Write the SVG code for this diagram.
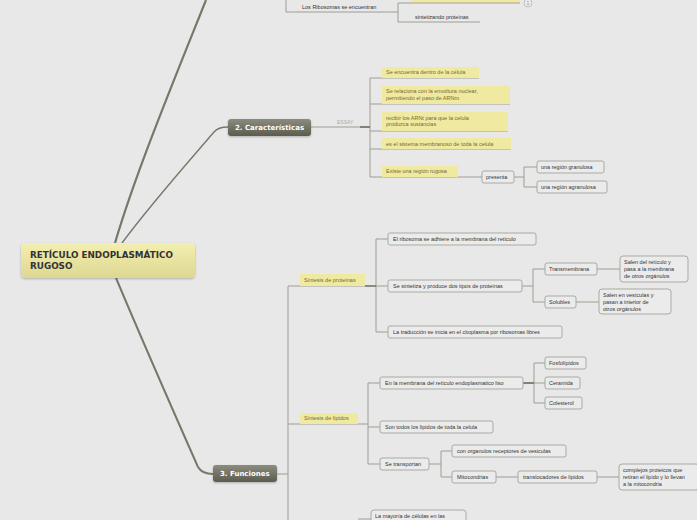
<svg xmlns="http://www.w3.org/2000/svg" width="697" height="520" viewBox="0 0 697 520">
<defs>
<style>
.bg{fill:#e8e8e8}
.box{fill:#ebebeb;stroke:#a9a9a1;stroke-width:1}
.ybox{fill:#efe9a2}
.t{font-family:"Liberation Sans",Arial,sans-serif;font-size:5.5px;fill:#333}
.yt{fill:#77692e}
.c{fill:none;stroke:#9e9e94;stroke-width:1}
.ct{fill:none;stroke:#78786a;stroke-width:2}
.ul{stroke:#a4a49a;stroke-width:1}
.main{font-family:"DejaVu Sans","Liberation Sans",sans-serif;font-weight:bold;fill:#fff;font-size:7px}
.ctext{font-family:"DejaVu Sans","Liberation Sans",sans-serif;font-weight:bold;font-size:8.8px;fill:#333}
</style>
<linearGradient id="gd" x1="0" y1="0" x2="0" y2="1"><stop offset="0" stop-color="#8c8c7e"/><stop offset="1" stop-color="#5c5c4e"/></linearGradient>
<linearGradient id="gy" x1="0" y1="0" x2="0" y2="1"><stop offset="0" stop-color="#f3efb0"/><stop offset="1" stop-color="#ddd792"/></linearGradient>
<filter id="sh" x="-10%" y="-20%" width="120%" height="150%"><feDropShadow dx="0" dy="1" stdDeviation="1" flood-color="#000" flood-opacity="0.25"/></filter>
</defs>
<rect class="bg" x="0" y="0" width="697" height="520"/>

<g id="connectors">
<path class="ct" d="M115,243 C135,175 170,90 206,0" style="stroke-width:2.2"/>
<path class="ct" d="M122,243 C150,205 190,160 214,132 Q218,127 228,127" style="stroke-width:1.4"/>
<path class="ct" d="M116,278 C140,335 175,415 198,467 Q202,474 213,474" style="stroke-width:2"/>
<!-- top -->
<path class="c" d="M286,0 V12 H398 M398,3 V22 M398,3 H411 M398,22 H480"/>
<!-- caracteristicas -->
<path class="c" d="M311,127 H370 M370,78 V177 M370,78 H479 M370,104 H510 M370,131 H508 M370,149 H511 M370,177 H482 M514,177 H524 M524,167 V187 M524,167 H537 M524,187 H537"/>
<path d="M360,127 H370" stroke="#6d6d60" stroke-width="1.5"/>
<!-- funciones -->
<path class="c" d="M277,474 H288 M288,286 V520 M288,286 H365 M288,424 H358 M376,239 V332 M376,239 H388 M376,286 H388 M376,332 H388 M522,286 H533 M533,269 V302 M533,269 H545 M533,302 H545 M597,269 H620 M576,302 H599"/>
<path d="M365,286 H376" stroke="#6d6d60" stroke-width="1.5"/>
<path class="c" d="M358,424 H368 M368,383 V464 M368,383 H380 M368,427 H380 M368,464 H380 M523,383 H534 M534,363 V403 M534,363 H545 M534,383 H545 M534,403 H545 M429,464 H441 M441,451 V477 M441,451 H452 M441,477 H452 M496,477 H518 M597,477 H619 M358,519 H371"/>
<path d="M523,383 H534" stroke="#6d6d60" stroke-width="1.5"/>
</g>

<g id="central">
<rect x="21" y="243" width="174" height="35" rx="4" fill="url(#gy)" filter="url(#sh)"/>
<text class="ctext" x="30" y="258">RETÍCULO ENDOPLASMÁTICO</text>
<text class="ctext" x="30" y="269">RUGOSO</text>
</g>

<g id="top-ribosomas">
<text class="t" x="302" y="9">Los Ribosomas se encuentran</text>
</g>
<g id="top-yellow">
<rect class="ybox" x="411" y="-6" width="109" height="9"/>
<line class="ul" x1="411" y1="3" x2="520" y2="3"/>
<circle cx="528" cy="3" r="4" fill="#ebebeb" stroke="#b8b8b0" stroke-width="0.8"/>
<text x="528" y="5" text-anchor="middle" style="font-family:'Liberation Sans',sans-serif;font-size:5px;fill:#999">1</text>
</g>
<g id="top-sintetizando">
<text class="t" x="415" y="19" fill="#555">sintetizando proteinas</text>
</g>

<g id="caracteristicas">
<rect x="228" y="119" width="83" height="17" rx="3" fill="url(#gd)" filter="url(#sh)"/>
<text class="main" x="235" y="130">2. Características</text>
<text x="337" y="124" style="font-family:'Liberation Sans',sans-serif;font-size:5px;fill:#aaa">ESSAY</text>
</g>
<g id="c1"><rect class="ybox" x="382" y="67" width="97" height="11"/><text class="t yt" x="386" y="74">Se encuentra dentro de la célula</text></g>
<g id="c2"><rect class="ybox" x="382" y="86" width="128" height="18"/><text class="t yt" x="386" y="93">Se relaciona con la envoltura nuclear,</text><text class="t yt" x="386" y="100">permitiendo el paso de ARNm</text></g>
<g id="c3"><rect class="ybox" x="382" y="112" width="126" height="19"/><text class="t yt" x="386" y="120">recibir los ARNt para que la celula</text><text class="t yt" x="386" y="126">produzca sustancias</text></g>
<g id="c4"><rect class="ybox" x="382" y="138" width="129" height="11"/><text class="t yt" x="386" y="146">es el sistema membranoso de toda la celula</text></g>
<g id="c5"><rect class="ybox" x="382" y="166" width="76" height="11"/><text class="t yt" x="386" y="173">Existe una región rugosa</text></g>
<g id="presenta"><rect class="box" x="482" y="171" width="32" height="12" rx="2"/><text class="t" x="486" y="179">presenta</text></g>
<g id="granulosa"><rect class="box" x="537" y="161" width="67" height="12" rx="2"/><text class="t" x="541" y="169">una región granulosa</text></g>
<g id="agranulosa"><rect class="box" x="537" y="181" width="70" height="12" rx="2"/><text class="t" x="541" y="189">una región agranulosa</text></g>

<g id="funciones">
<rect x="213" y="465" width="64" height="17" rx="3" fill="url(#gd)" filter="url(#sh)"/>
<text class="main" x="220" y="476">3. Funciones</text>
</g>
<g id="sint-prot"><rect class="ybox" x="300" y="274" width="65" height="12"/><text class="t yt" x="304" y="282">Síntesis de proteínas</text></g>
<g id="ribosoma"><rect class="box" x="388" y="233" width="148" height="12" rx="2"/><text class="t" x="393" y="241">El ribosoma se adhiere a la membrana del retículo</text></g>
<g id="sintetiza"><rect class="box" x="388" y="280" width="134" height="12" rx="2"/><text class="t" x="393" y="288">Se sintetiza y produce dos tipos de proteínas</text></g>
<g id="traduccion"><rect class="box" x="388" y="326" width="174" height="12" rx="2"/><text class="t" x="393" y="334">La traducción se inicia en el citoplasma por ribosomas libres</text></g>
<g id="transmembrana"><rect class="box" x="545" y="263" width="52" height="12" rx="2"/><text class="t" x="549" y="271">Transmembrana</text></g>
<g id="solubles"><rect class="box" x="545" y="296" width="31" height="12" rx="2"/><text class="t" x="549" y="304">Solubles</text></g>
<g id="salen1"><rect class="box" x="620" y="256" width="68" height="26" rx="3"/><text class="t" x="624" y="264">Salen del retículo y</text><text class="t" x="624" y="271">pasa a la membrana</text><text class="t" x="624" y="278">de otros orgánulos</text></g>
<g id="salen2"><rect class="box" x="599" y="289" width="72" height="25" rx="3"/><text class="t" x="603" y="297">Salen en vesículas y</text><text class="t" x="603" y="304">pasan a interior de</text><text class="t" x="603" y="311">otros orgánulos</text></g>

<g id="sint-lip"><rect class="ybox" x="300" y="413" width="58" height="11"/><text class="t yt" x="304" y="420">Síntesis de lípidos</text></g>
<g id="membrana"><rect class="box" x="380" y="377" width="143" height="12" rx="2"/><text class="t" x="385" y="385">En la membrana del retículo endoplasmatico liso</text></g>
<g id="todos"><rect class="box" x="380" y="421" width="113" height="12" rx="2"/><text class="t" x="385" y="429">Son todos los lipidos de toda la celula</text></g>
<g id="transportan"><rect class="box" x="380" y="458" width="49" height="12" rx="2"/><text class="t" x="385" y="466">Se transportan</text></g>
<g id="fosfo"><rect class="box" x="545" y="357" width="41" height="12" rx="2"/><text class="t" x="549" y="365">Fosfolípidos</text></g>
<g id="ceramida"><rect class="box" x="545" y="377" width="35" height="12" rx="2"/><text class="t" x="549" y="385">Ceramida</text></g>
<g id="colesterol"><rect class="box" x="545" y="397" width="37" height="12" rx="2"/><text class="t" x="549" y="405">Colesterol</text></g>
<g id="organulos"><rect class="box" x="452" y="445" width="114" height="12" rx="2"/><text class="t" x="457" y="453">con organulos receptores de vesiculas</text></g>
<g id="mitocondrias"><rect class="box" x="452" y="471" width="44" height="12" rx="2"/><text class="t" x="457" y="479">Mitocondrias</text></g>
<g id="translocadores"><rect class="box" x="518" y="471" width="79" height="12" rx="2"/><text class="t" x="523" y="479">translocadores de lipidos</text></g>
<g id="complejos"><rect class="box" x="619" y="464" width="80" height="26" rx="3"/><text class="t" x="623" y="472">complejos proteicos que</text><text class="t" x="623" y="479">retiran el lipido y lo llevan</text><text class="t" x="623" y="486">a la mitocondria</text></g>
<g id="mayoria"><rect class="box" x="371" y="510" width="95" height="16" rx="3"/><text class="t" x="375" y="518">La mayoría de células en las</text></g>
</svg>
